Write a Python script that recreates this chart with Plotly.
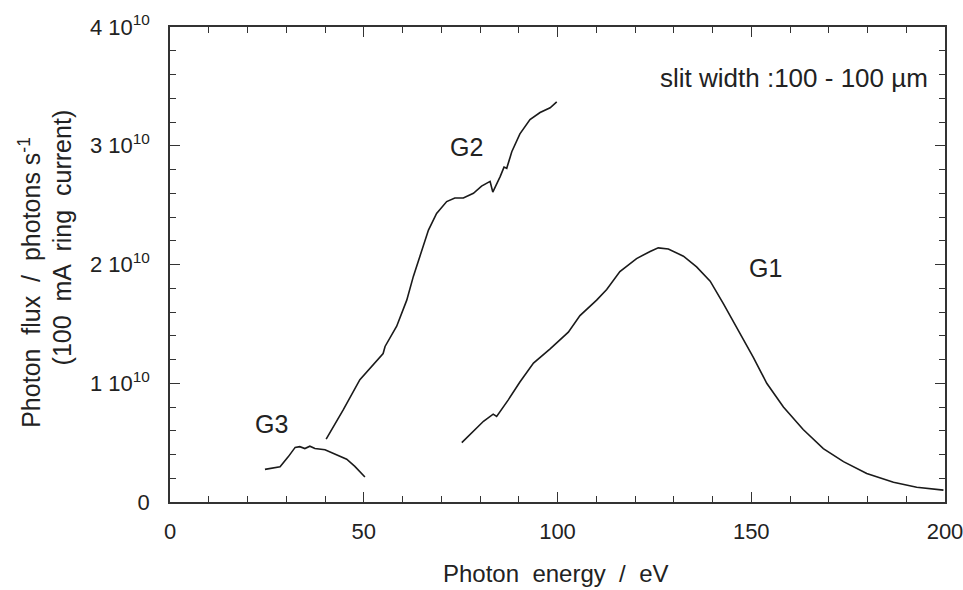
import plotly.graph_objects as go

# G3 grating
g3_energy = [24.5, 28.4, 30.5, 32.3, 33.5, 34.8, 36.1, 37.4, 40.0, 43.0, 45.6, 47.7, 50.3]
g3_flux = [0.275, 0.297, 0.38, 0.46, 0.466, 0.45, 0.47, 0.45, 0.44, 0.396, 0.36, 0.30, 0.21]

# G2 grating
g2_energy = [40.3, 44.7, 49.0, 52.9, 55.0, 55.5, 58.5, 61.1, 62.8, 64.5, 66.7, 68.8, 71.4,
             73.5, 75.7, 78.3, 80.4, 82.6, 83.3, 85.2, 86.2, 86.9, 88.2, 90.3, 92.9, 95.5,
             98.1, 99.8]
g2_flux = [0.53, 0.775, 1.03, 1.17, 1.25, 1.31, 1.48, 1.70, 1.90, 2.07, 2.29, 2.43, 2.53,
           2.56, 2.56, 2.60, 2.66, 2.70, 2.61, 2.74, 2.82, 2.81, 2.95, 3.10, 3.22, 3.28,
           3.32, 3.37]

# G1 grating
g1_energy = [75.3, 80.9, 83.4, 84.3, 87.3, 90.3, 93.8, 98.1, 102.8, 105.8, 110.1, 112.7,
             116.1, 120.4, 123.9, 126.0, 128.6, 132.5, 135.9, 139.4, 142.8, 147.1, 150.5,
             154.0, 158.3, 163.4, 168.6, 173.8, 179.8, 186.7, 192.7, 199.6]
g1_flux = [0.50, 0.68, 0.74, 0.72, 0.86, 1.01, 1.17, 1.29, 1.43, 1.57, 1.70, 1.79, 1.94,
           2.05, 2.11, 2.14, 2.13, 2.07, 1.98, 1.86, 1.67, 1.42, 1.22, 1.00, 0.80, 0.61,
           0.45, 0.34, 0.24, 0.166, 0.124, 0.10]

scale = 1e10
x_ticks = [0, 50, 100, 150, 200]
y_ticks = [0, 1e10, 2e10, 3e10, 4e10]
y_ticktext = ["0", "1 10<sup>10</sup>", "2 10<sup>10</sup>", "3 10<sup>10</sup>", "4 10<sup>10</sup>"]

labels = [("G3", 26.3, 0.655), ("G2", 76.6, 2.99), ("G1", 153.8, 1.97)]

FONT = "Liberation Sans"
INK = "#222222"

fig = go.Figure()
for xs, ys in [(g3_energy, g3_flux), (g2_energy, g2_flux), (g1_energy, g1_flux)]:
    fig.add_trace(go.Scatter(x=xs, y=[v * scale for v in ys], mode="lines",
                             line=dict(color="#1a1a1a", width=1.6), showlegend=False,
                             hoverinfo="skip"))

for txt, lx, ly in labels:
    fig.add_annotation(x=lx, y=ly * scale, text=txt, showarrow=False,
                       font=dict(family=FONT, size=25, color=INK))

fig.add_annotation(x=0.981, y=0.893, xref="paper", yref="paper",
                   xanchor="right", yanchor="middle", showarrow=False,
                   text="slit width :100 - 100 µm",
                   font=dict(family=FONT, size=26, color=INK))

fig.add_annotation(x=0.498, y=-0.150, xref="paper", yref="paper", showarrow=False,
                   xanchor="center", yanchor="middle",
                   text="Photon  energy  /  eV", font=dict(family=FONT, size=24, color=INK))

fig.add_annotation(x=-0.181, y=0.463, xref="paper", yref="paper", showarrow=False,
                   xanchor="center", yanchor="middle", textangle=-90,
                   text="Photon  flux  /  photons s<sup>-1</sup>",
                   font=dict(family=FONT, size=25, color=INK))
fig.add_annotation(x=-0.140, y=0.558, xref="paper", yref="paper", showarrow=False,
                   xanchor="center", yanchor="middle", textangle=-90,
                   text="(100  mA  ring  current)",
                   font=dict(family=FONT, size=25, color=INK))

axis_common = dict(showline=True, linecolor="#333333", linewidth=1.5, mirror="ticks",
                   ticks="inside", ticklen=10, tickwidth=1.3, tickcolor="#333333",
                   showgrid=False, zeroline=False, ticklabeloverflow="allow",
                   automargin=False,
                   tickfont=dict(family=FONT, size=22, color=INK))

fig.update_xaxes(range=[0, 200], tickvals=x_ticks, ticktext=[str(v) for v in x_ticks],
                 minor=dict(dtick=10, ticks="inside", ticklen=6, tickwidth=1.2,
                            tickcolor="#333333", showgrid=False),
                 ticklabelstandoff=9, **axis_common)
fig.update_yaxes(range=[0, 4e10], tickvals=y_ticks, ticktext=y_ticktext,
                 minor=dict(dtick=2e9, ticks="inside", ticklen=6, tickwidth=1.2,
                            tickcolor="#333333", showgrid=False),
                 ticklabelstandoff=14, **axis_common)

fig.update_layout(width=963, height=590, margin=dict(l=170, r=18, t=27, b=88),
                  plot_bgcolor="white", paper_bgcolor="white",
                  font=dict(family=FONT, color=INK))

fig.write_html("out.html")
